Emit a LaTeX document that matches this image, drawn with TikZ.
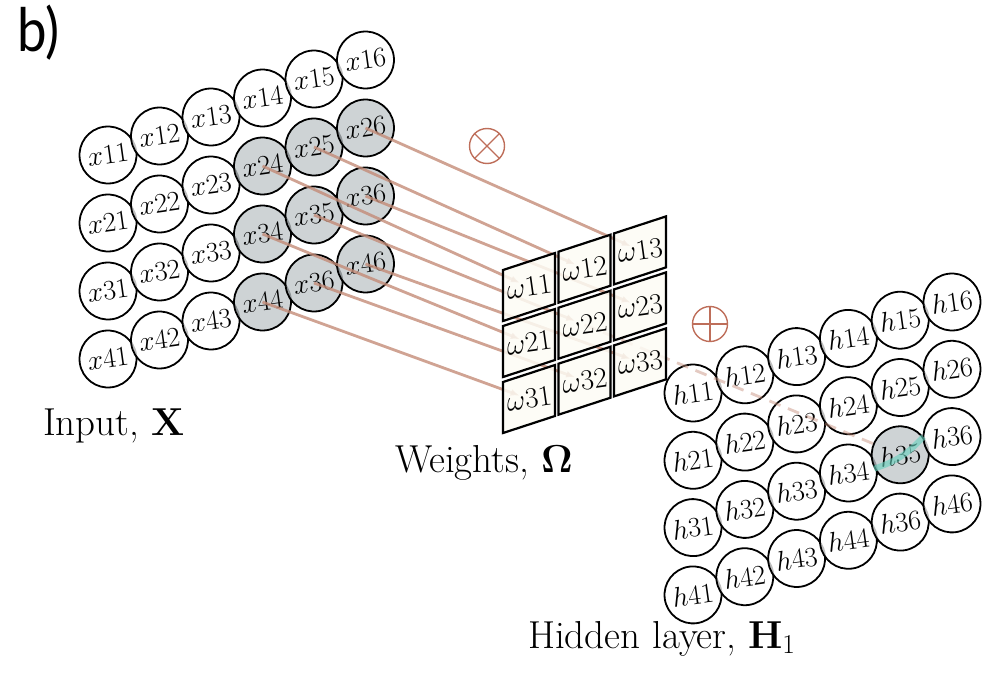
\RequirePackage{fix-cm}
\documentclass[tikz,border=0pt]{standalone}
\usepackage{amsmath}
\usepackage[no-math]{fontspec}
\usepackage{tikz}
\usetikzlibrary{arrows.meta}
\newfontfamily\panelfont{Lato}
\definecolor{hlgray}{RGB}{189,196,199}
\definecolor{cellfill}{RGB}{253,252,245}
\definecolor{linkcol}{RGB}{196,140,120}
\definecolor{opcol}{RGB}{190,110,90}
\definecolor{glowcol}{RGB}{100,208,188}
\tikzset{
  unit/.style={draw,circle,line width=1.8pt,minimum size=57pt,inner sep=0pt,
    fill opacity=0.75,text opacity=1,font=\fontsize{28}{30}\selectfont,rotate=8},
  cell/.style={draw,line width=2.2pt,fill=cellfill,fill opacity=0.85,line join=miter},
  wlabel/.style={inner sep=0pt,font=\fontsize{29}{30}\selectfont,rotate=8},
  link/.style={linkcol,opacity=0.8,line width=2.8pt,-{Latex[length=9pt,width=7pt]},shorten >=10pt},
  linkdash/.style={linkcol,opacity=0.45,line width=2.8pt,dash pattern=on 12pt off 8pt},
  opsym/.style={draw=opcol,circle,line width=1.4pt,minimum size=35pt,inner sep=0pt},
  glow/.style={glowcol,opacity=0.6,line width=6pt},
  caption/.style={anchor=base west,inner sep=0pt,font=\fontsize{39}{46}\selectfont}
}
\begin{document}
\begin{tikzpicture}[x=1pt,y=-1pt]
  \useasboundingbox (0,0) rectangle (987,674);
  \foreach \r in {1,...,4}
    \foreach \c in {1,...,6} {
      \pgfmathsetmacro\ux{108+51.5*(\c-1)}
      \pgfmathsetmacro\uy{155+68*(\r-1)-19*(\c-1)}
      \def\lab{\r\c}
      \ifnum\r\c=45 \def\lab{36}\fi
      \def\ucol{white}
      \ifnum\r>1 \ifnum\c>3 \def\ucol{hlgray}\fi\fi
      \node[unit,fill=\ucol] (x\r\c) at (\ux,\uy) {$x\lab$};
    }
  \foreach \r in {1,...,4}
    \foreach \c in {1,...,6} {
      \pgfmathsetmacro\ux{693+51.8*(\c-1)}
      \pgfmathsetmacro\uy{393+67.3*(\r-1)-18.2*(\c-1)}
      \def\lab{\r\c}
      \ifnum\r\c=45 \def\lab{36}\fi
      \def\ucol{white}
      \ifnum\r\c=35 \def\ucol{hlgray}\fi
      \node[unit,fill=\ucol] (h\r\c) at (\ux,\uy) {$h\lab$};
    }
  \foreach \r in {1,2,3}
    \foreach \c in {1,2,3} {
      \pgfmathsetmacro\wx{503+55.5*(\c-1)}
      \pgfmathsetmacro\wy{270-18.3*(\c-1)+56*(\r-1)}
      \coordinate (wc\r\c) at (\wx,\wy);
      \coordinate (wt\r\c) at (\wx+26,\wy+17);
    }
  \foreach \r in {2,3,4}
    \foreach \c in {4,5,6} {
      \pgfmathtruncatemacro\wr{\r-1}
      \pgfmathtruncatemacro\wk{\c-3}
      \draw[link] (x\r\c.center) -- (wt\wr\wk);
    }
  \draw[linkdash] (wt22) -- (h35);
  \draw[glow] (h35.200) to[bend right=15] (h35.30);
  \foreach \r in {1,2,3}
    \foreach \c in {1,2,3} {
      \draw[cell] (wc\r\c) -- ++(52,-17) -- ++(0,51) -- ++(-52,17) -- cycle;
      \node[wlabel] (w\r\c) at (wt\r\c) {$\omega\r\c$};
    }
  \node[opsym] (mult) at (487,146) {};
  \draw[opcol,line width=1.4pt] (mult.north east) -- (mult.south west)
    (mult.north west) -- (mult.south east);
  \node[opsym] (plus) at (710,324) {};
  \draw[opcol,line width=1.4pt] (plus.north) -- (plus.south)
    (plus.west) -- (plus.east);
  \node[caption] (inlabel) at (43,435) {Input, $\mathbf{X}$};
  \node[caption] (wtlabel) at (395,472) {Weights, $\mathbf{\Omega}$};
  \node[caption] (hlabel) at (528,648) {Hidden layer, $\mathbf{H}_1$};
  \node[anchor=base west,inner sep=0pt,xscale=0.88,font=\panelfont\fontsize{60}{62}\selectfont] (panel) at (17,52) {b)};
\end{tikzpicture}
\end{document}
